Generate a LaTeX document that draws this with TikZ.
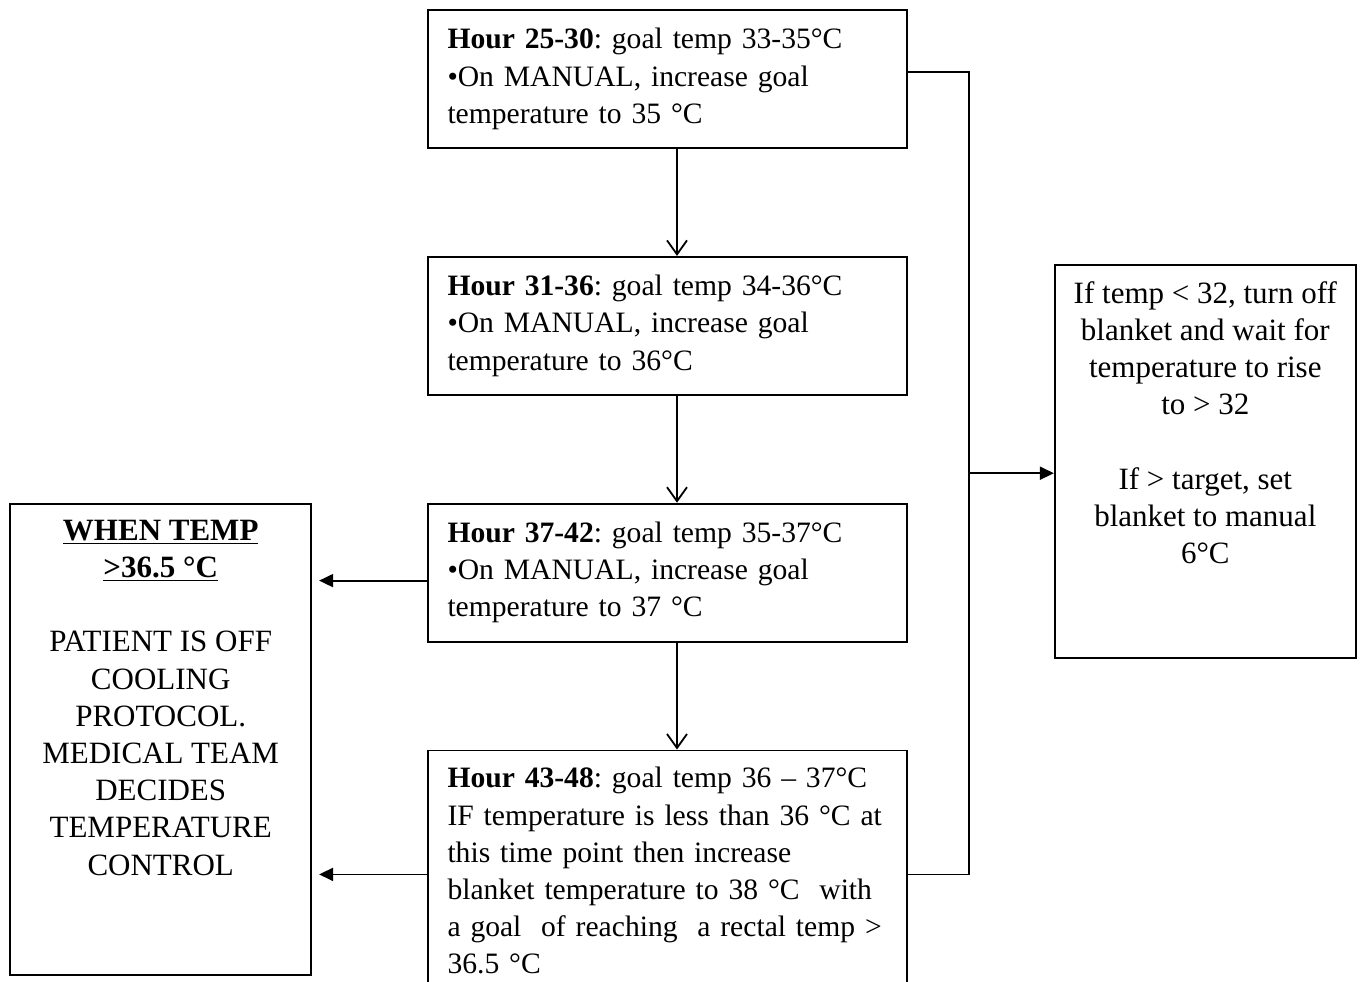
\documentclass[tikz,border=0pt]{standalone}
\usepackage{fontspec}
\setmainfont{Liberation Serif}
\usetikzlibrary{positioning, arrows.meta, calc}
\frenchspacing

\begin{document}
\begin{tikzpicture}[
    node distance=53.5pt and 57.5pt,
    every node/.style={font=\fontsize{15.5}{18.6}\selectfont},
    hourbox/.style={draw, line width=0.9pt, text width=220pt, inner xsep=9.75pt,
                    minimum height=69pt, align=left,
                    font=\fontsize{14.8}{18.6}\selectfont},
    offbox/.style={draw, line width=0.9pt, minimum width=150.5pt,
                   minimum height=235.5pt, align=center},
    notebox/.style={draw, line width=0.9pt, minimum width=150.5pt,
                    minimum height=196.5pt, align=center},
    arr/.style={-{Straight Barb[length=7pt,width=10pt]}, line width=0.9pt},
    harr/.style={-{Triangle[length=7pt,width=6.5pt]}, line width=0.9pt},
]
\useasboundingbox (0,0) rectangle (680pt,-490.5pt);

% Hour boxes
\node[hourbox] (h25) at (333.75pt,-39.5pt)
    {\textbf{Hour 25-30}: goal temp 33-35°C\\
     •On MANUAL, increase goal\\
     temperature to 35 °C};
\node[hourbox, below=of h25] (h31)
    {\textbf{Hour 31-36}: goal temp 34-36°C\\
     •On MANUAL, increase goal\\
     temperature to 36°C};
\node[hourbox, below=of h31] (h37)
    {\textbf{Hour 37-42}: goal temp 35-37°C\\
     •On MANUAL, increase goal\\
     temperature to 37 °C};
\node[hourbox, below=of h37, minimum height=120.5pt] (h43)
    {\textbf{Hour 43-48}: goal temp 36 – 37°C\\
     IF temperature is less than 36 °C at\\
     this time point then increase\\
     blanket temperature to 38 °C\ \ with\\
     a goal\ \ of reaching\ \ a rectal temp >\\
     36.5 °C};

\draw[arr] ([xshift=4.75pt]h25.south) -- ([xshift=4.75pt]h31.north);
\draw[arr] ([xshift=4.75pt]h31.south) -- ([xshift=4.75pt]h37.north);
\draw[arr] ([xshift=4.75pt]h37.south) -- ([xshift=4.75pt]h43.north);

% Left -- off protocol
\node[offbox, below left=0pt and 57.5pt of h37.north west] (offcool)
    {\underline{\textbf{WHEN TEMP}}\\
     \underline{\textbf{>36.5 °C}}\\[18.6pt]
     PATIENT IS OFF\\ COOLING\\ PROTOCOL.\\ MEDICAL TEAM\\
     DECIDES\\ TEMPERATURE\\ CONTROL\\[22.9pt]\mbox{}};
\draw[harr, shorten >=3.5pt] ([yshift=-4pt]h37.west) -- ([yshift=-4pt]h37.west -| offcool.east);
\draw[harr, shorten >=3.5pt] ([yshift=-1.75pt]h43.west) -- ([yshift=-1.75pt]h43.west -| offcool.east);

% Right -- blanket note
\node[notebox, below right=4pt and 73pt of h31.north east] (note)
    {If temp < 32, turn off\\ blanket and wait for\\ temperature to rise\\ to > 32\\[18.6pt]
     If > target, set\\ blanket to manual\\ 6°C\\[20.4pt]\mbox{}};
\coordinate (bus25) at ([xshift=30.5pt,yshift=3.5pt]h25.east);
\coordinate (bus43) at ([xshift=30.5pt,yshift=-1.75pt]h43.east);
\coordinate (busmid) at ($(bus25)!0.5!(bus43)$);
\draw[line width=0.9pt] ([yshift=3.5pt]h25.east) -- (bus25) -- (bus43) -- ([yshift=-1.75pt]h43.east);
\draw[harr] (busmid) -- (busmid -| note.west);
\end{tikzpicture}
\end{document}
